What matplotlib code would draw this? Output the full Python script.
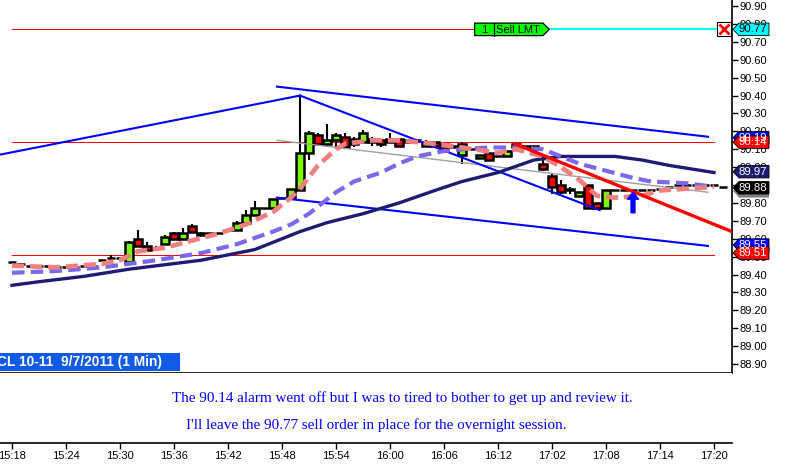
import matplotlib
matplotlib.use("Agg")
import matplotlib.pyplot as plt
from matplotlib.patches import Polygon, Rectangle

plt.rcParams['font.family'] = ['Liberation Sans', 'DejaVu Sans']

# candles, one per minute bar
opens = [89.47,89.46,89.45,89.45,89.45,89.44,89.44,89.44,89.45,89.45,
         89.48,89.49,89.49,89.47,89.60,89.56,89.55,89.57,89.63,89.60,
         89.67,89.63,89.63,89.63,89.65,89.65,89.69,89.73,89.77,89.77,
         89.83,89.83,89.87,90.08,90.18,90.13,90.15,90.17,90.13,90.14,
         90.16,90.15,90.16,90.16,90.15,90.15,90.12,90.14,90.13,90.12,
         90.07,90.10,90.05,90.08,90.06,90.06,90.11,90.12,90.12,90.02,
         89.95,89.90,89.88,89.84,89.90,89.80,89.77,89.87,89.87,89.87,
         89.87,89.87,89.88,89.89,89.90,89.90,89.90,89.90,89.90,89.89]
closes = [89.47,89.46,89.45,89.45,89.45,89.44,89.44,89.44,89.45,89.45,
          89.48,89.49,89.49,89.58,89.56,89.54,89.55,89.61,89.60,89.63,
          89.64,89.62,89.63,89.63,89.65,89.69,89.73,89.77,89.77,89.82,
          89.83,89.88,90.08,90.19,90.13,90.15,90.18,90.11,90.16,90.19,
          90.14,90.13,90.14,90.12,90.14,90.15,90.14,90.12,90.10,90.11,
          90.13,90.10,90.07,90.04,90.06,90.09,90.13,90.12,90.10,89.99,
          89.89,89.86,89.87,89.86,89.77,89.77,89.87,89.87,89.87,89.87,
          89.87,89.87,89.88,89.89,89.90,89.90,89.90,89.90,89.90,89.89]
highs = [89.47,89.46,89.45,89.45,89.45,89.44,89.44,89.44,89.45,89.45,
         89.48,89.51,89.49,89.59,89.65,89.58,89.56,89.62,89.64,89.66,
         89.68,89.64,89.63,89.63,89.65,89.70,89.76,89.81,89.77,89.82,
         89.83,89.88,90.40,90.20,90.19,90.24,90.19,90.19,90.17,90.21,
         90.17,90.15,90.19,90.16,90.15,90.15,90.15,90.14,90.13,90.12,
         90.14,90.10,90.07,90.08,90.06,90.09,90.13,90.12,90.12,90.06,
         89.96,89.93,89.89,89.86,89.90,89.80,89.87,89.87,89.87,89.87,
         89.87,89.87,89.88,89.89,89.90,89.90,89.90,89.90,89.90,89.89]
lows = [89.47,89.46,89.45,89.45,89.45,89.44,89.44,89.44,89.45,89.45,
        89.48,89.49,89.49,89.47,89.56,89.53,89.53,89.57,89.60,89.60,
        89.64,89.62,89.63,89.63,89.65,89.65,89.69,89.73,89.77,89.77,
        89.83,89.83,89.87,90.04,90.13,90.11,90.11,90.11,90.11,90.14,
        90.12,90.11,90.14,90.12,90.14,90.15,90.12,90.12,90.10,90.11,
        90.02,90.10,90.05,90.04,90.06,90.06,90.11,90.12,90.10,89.98,
        89.85,89.85,89.85,89.84,89.77,89.77,89.77,89.87,89.87,89.87,
        89.87,89.87,89.88,89.89,89.90,89.87,89.90,89.90,89.90,89.89]

# moving averages
fast_bars = [0,5,10,12,14,17,20,23,26,29,31,32,34,36,37,40,43,47,50,54,56,59,61,63,65,67,70,72,75,78]
fast_vals = [89.45,89.44,89.46,89.48,89.53,89.55,89.59,89.63,89.68,89.75,89.83,89.88,90.01,90.10,90.13,
             90.15,90.15,90.13,90.11,90.08,90.10,90.06,90.00,89.93,89.84,89.83,89.84,89.87,89.88,89.89]
mid_bars = [0,5,10,13,16,21,25,29,31,33,36,38,41,43,45,48,50,53,56,59,61,63,66,69,71,75,78]
mid_vals = [89.41,89.42,89.44,89.46,89.48,89.52,89.57,89.64,89.68,89.74,89.86,89.92,89.97,90.02,
            90.06,90.09,90.10,90.11,90.11,90.10,90.06,90.02,89.98,89.94,89.92,89.91,89.89]
slow_bars = [0,3,8,13,21,27,32,35,39,43,47,50,54,58,61,67,70,73,78]
slow_vals = [89.34,89.36,89.39,89.43,89.48,89.54,89.64,89.69,89.74,89.80,89.87,89.92,89.97,90.04,
             90.06,90.06,90.04,90.01,89.97]

# levels and trend lines
sell_price = 90.77
levels = [90.14, 89.51]
blue_lines = [([-1.33, 32], [90.07, 90.40]),
              ([32, 65.3], [90.40, 89.76]),
              ([29.44, 77.33], [90.45, 90.17]),
              ([29.44, 77.33], [89.83, 89.56])]
gray_line = ([29.44, 77.33], [90.15, 89.86])
red_line = ([55.9, 80], [90.13, 89.64])

# right hand price flags
flags = [("90.77", 90.77, "#00ffff", "black"),
         ("90.19", 90.165, "#0000ff", "white"),
         ("90.14", 90.14, "#ff0000", "white"),
         ("89.97", 89.975, "#1c1c70", "white"),
         ("89.55", 89.565, "#0000ff", "white"),
         ("89.51", 89.52, "#ff0000", "white")]

price_ticks = [88.9,89.0,89.1,89.2,89.3,89.4,89.5,89.6,89.7,89.8,89.9,90.0,90.1,90.2,90.3,90.4,90.5,90.6,90.7,90.8,90.9]
time_labels = ["15:18","15:24","15:30","15:36","15:42","15:48","15:54","16:00","16:06","16:12","17:02","17:08","17:14","17:20"]
time_bars = [0,6,12,18,24,30,36,42,48,54,60,66,72,78]

fig = plt.figure(figsize=(7.86, 4.68), dpi=100)
ax = fig.add_axes([0, 1 - 373/468, 732/786, 373/468])
ax.set_xlim(-1.333, 80)
ax.set_ylim(88.85, 90.934)

for s in ['left', 'top']:
    ax.spines[s].set_visible(False)
ax.spines['right'].set_linewidth(1.2)
ax.spines['bottom'].set_linewidth(1.2)
ax.set_xticks([])
ax.yaxis.tick_right()
ax.set_yticks(price_ticks)
ax.set_yticklabels([f"{p:.2f}" for p in price_ticks], fontsize=8)
ax.tick_params(axis='y', length=4.5, width=1, pad=1)

# horizontal levels
ax.plot([0, 51.4], [sell_price, sell_price], color="#ff0000", lw=0.75, zorder=2)
ax.plot([59.4, 78.6], [sell_price, sell_price], color="#00ffff", lw=1.6, zorder=2)
for lv in levels:
    ax.plot([0, 78], [lv, lv], color="#ff0000", lw=0.75, zorder=2)

# candles
for i in range(len(opens)):
    o, c = opens[i], closes[i]
    col = "#7cfc00" if c > o else "#ff0000" if c < o else "black"
    ax.vlines(i, lows[i], highs[i], color="black", lw=1.5, zorder=3)
    ax.bar(i, abs(c - o), bottom=min(o, c), width=0.78, color=col, edgecolor="black", linewidth=1.8, zorder=4)

ax.plot(*gray_line, color="#a0a0a0", lw=1, zorder=5)
for bx, by in blue_lines:
    ax.plot(bx, by, color="#0000ff", lw=1.5, zorder=6)

ax.plot(slow_bars, slow_vals, color="#1c1c70", lw=2.4, zorder=7)
ax.plot(mid_bars, mid_vals, color="#7b68ee", lw=3, dashes=(3, 1.5), zorder=8)
ax.plot(fast_bars, fast_vals, color="#f08080", lw=3.4, dashes=(2.6, 1.2), zorder=9)
ax.plot(*red_line, color="#ff0000", lw=2.4, zorder=10)

ax.annotate("", xy=(69, 89.86), xytext=(69, 89.745),
            arrowprops=dict(width=2.8, headwidth=8, headlength=5, color="#0000ff", shrink=0), zorder=11)

# sell order box
ax.add_patch(Polygon([(51.4, 90.805), (59.0, 90.805), (59.7, 90.77), (59.0, 90.735), (51.4, 90.735)],
                     closed=True, facecolor="#00ff00", edgecolor="black", lw=0.9, zorder=12))
ax.plot([53.55, 53.55], [90.735, 90.805], color="black", lw=0.9, zorder=13)
ax.text(52.5, 90.768, "1", fontsize=8, ha="center", va="center", zorder=13)
ax.text(53.75, 90.768, "Sell LMT", fontsize=8, ha="left", va="center", zorder=13)

# cancel icon
ax.plot(79.1, sell_price, marker='s', ms=9.5, mfc="white", mec="black", mew=0.8, zorder=12)
ax.plot(79.1, sell_price, marker='x', ms=7.5, mec="#ff0000", mew=2, zorder=13)

# price flags, x given as fraction of the axes width so they sit over the scale
tr = ax.get_yaxis_transform()
def flag(text, price, face, txt, shadow=False):
    h = 0.035
    xa, xb, xc = 733/732, 739/732, 769/732
    if shadow:
        ax.add_patch(Polygon([(xa, price-h/2), (xb, price+h-0.02), (xc, price+h-0.02), (xc, price-h-0.02), (xb, price-h-0.02)],
                             closed=True, transform=tr, facecolor="#808080", edgecolor="none", clip_on=False, zorder=20))
    ax.add_patch(Polygon([(xa, price), (xb, price+h), (xc, price+h), (xc, price-h), (xb, price-h)],
                         closed=True, transform=tr, facecolor=face, edgecolor="black", lw=0.6, clip_on=False, zorder=20))
    ax.text(753/732, price, text, transform=tr, color=txt, fontsize=8.2, ha="center", va="center", clip_on=False, zorder=21)

for t, p, fc, tc in flags:
    flag(t, p, fc, tc)
flag("89.88", 89.885, "black", "white", shadow=True)

# title tab
ax.add_patch(Rectangle((0, 2/373), 180/732, 18/373, transform=ax.transAxes, facecolor="#0f5be6", edgecolor="none", zorder=15))
ax.text(-3/732, 11/373, "CL 10-11  9/7/2011 (1 Min)", transform=ax.transAxes, color="white", fontweight="bold",
        fontsize=9.9, ha="left", va="center", zorder=16, clip_on=True)

# time strip
ax2 = fig.add_axes([0, 1 - 443/468, 732/786, 70/468])
ax2.set_xlim(-1.333, 80)
ax2.set_ylim(0, 1)
for s in ['left', 'top', 'right']:
    ax2.spines[s].set_visible(False)
ax2.spines['bottom'].set_linewidth(1.2)
ax2.set_yticks([])
ax2.set_xticks(time_bars)
ax2.set_xticklabels(time_labels, fontsize=8)
ax2.tick_params(axis='x', length=4.5, width=1, pad=1.5)

fig.text(402/786, 1 - 398/468, "The 90.14 alarm went off but I was to tired to bother to get up and review it.",
         family="Liberation Serif", color="#0000ff", fontsize=10.9, ha="center", va="center")
fig.text(376/786, 1 - 425/468, "I'll leave the 90.77 sell order in place for the overnight session.",
         family="Liberation Serif", color="#0000ff", fontsize=10.9, ha="center", va="center")

fig.savefig("out.png", dpi=100)
